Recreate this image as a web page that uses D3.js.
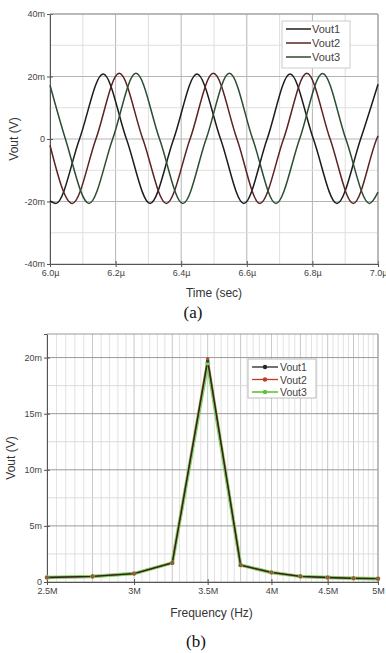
<!DOCTYPE html>
<html>
<head>
<meta charset="utf-8">
<script src="https://cdn.jsdelivr.net/npm/d3@7"></script>
<style>
  body { margin: 0; background: #fff; }
  svg { display: block; font-family: 'Liberation Sans', Arial, sans-serif; }
</style>
</head>
<body>
<div id="chart"></div>
<script>
// ---- data ----
// (a) transient, time in µs, Vout in mV (peaks, zero crossings, troughs)
const timeTicks = [6.0, 6.2, 6.4, 6.6, 6.8, 7.0];
const timeTickLabels = ['6.0µ', '6.2µ', '6.4µ', '6.6µ', '6.8µ', '7.0µ'];
const voutTicks = [40, 20, 0, -20, -40];
const voutTickLabels = ['40m', '20m', '0', '-20m', '-40m'];

const vout1 = [[6.0, -19.8], [6.018, -20.6], [6.090, 0], [6.162, 20.8], [6.233, 0], [6.305, -20.6],
  [6.377, 0], [6.448, 20.8], [6.520, 0], [6.591, -20.6], [6.662, 0], [6.732, 20.8], [6.803, 0],
  [6.875, -20.6], [6.947, 0], [7.0, 17.5]];
const vout2 = [[6.0, -2.0], [6.068, -20.6], [6.140, 0], [6.211, 21.0], [6.283, 0], [6.355, -20.6],
  [6.427, 0], [6.498, 21.0], [6.570, 0], [6.640, -20.6], [6.712, 0], [6.783, 21.0], [6.854, 0],
  [6.925, -20.6], [6.996, 0], [7.0, 1.0]];
const vout3 = [[6.0, 17.2], [6.047, 0], [6.119, -20.6], [6.191, 0], [6.262, 21.0], [6.334, 0],
  [6.405, -20.6], [6.476, 0], [6.547, 21.0], [6.618, 0], [6.689, -20.6], [6.761, 0], [6.831, 21.0],
  [6.902, 0], [6.974, -20.6], [7.0, -17.0]];

// (b) spectrum, frequency in MHz, Vout in mV
const freqs = [2.5, 2.75, 3.0, 3.25, 3.5, 3.75, 4.0, 4.25, 4.5, 4.75, 5.0];
const freqTicks = [2.5, 3, 3.5, 4, 4.5, 5];
const freqTickLabels = ['2.5M', '3M', '3.5M', '4M', '4.5M', '5M'];
const specTicks = [0, 5, 10, 15, 20];
const specTickLabels = ['0', '5m', '10m', '15m', '20m'];
const spec1 = [0.4, 0.5, 0.75, 1.7, 19.7, 1.5, 0.85, 0.5, 0.4, 0.33, 0.3];
const spec2 = [0.4, 0.5, 0.75, 1.7, 19.9, 1.5, 0.85, 0.5, 0.4, 0.33, 0.3];
const spec3 = [0.4, 0.5, 0.75, 1.7, 19.5, 1.5, 0.85, 0.5, 0.4, 0.33, 0.3];

const seriesNames = ['Vout1', 'Vout2', 'Vout3'];
const tranColors = ['#1c1c1c', '#5a2323', '#2b4d34'];

const W = 386, H = 653;
const svg = d3.select('#chart').append('svg')
  .attr('width', W).attr('height', H);

// ================= (a) =================
const a = { left: 50, right: 378, top: 14, bottom: 264 };
const xa = d3.scaleLinear().domain([6.0, 7.0]).range([a.left, a.right]);
const ya = d3.scaleLinear().domain([-40, 40]).range([a.bottom, a.top]);

const ga = svg.append('g');

// grid
ga.append('g').selectAll('line')
  .data(d3.range(0, 11).map((i) => 6.0 + i * 0.1))
  .enter().append('line')
  .attr('x1', (d) => xa(d)).attr('x2', (d) => xa(d))
  .attr('y1', a.top).attr('y2', a.bottom)
  .style('stroke', (d, i) => i % 2 === 0 ? '#b4b4b4' : '#dedede')
  .style('stroke-width', 1);
ga.append('g').selectAll('line')
  .data(d3.range(-40, 41, 10))
  .enter().append('line')
  .attr('x1', a.left).attr('x2', a.right)
  .attr('y1', (d) => ya(d)).attr('y2', (d) => ya(d))
  .style('stroke', (d) => d % 20 === 0 ? '#b4b4b4' : '#dedede')
  .style('stroke-width', 1);

// axes
ga.append('g')
  .attr('transform', `translate(${a.left},0)`)
  .call(d3.axisLeft(ya).tickValues(voutTicks).tickSize(3)
    .tickFormat((d, i) => voutTickLabels[i]))
  .call((g) => g.select('.domain').attr('stroke', '#555'))
  .call((g) => g.selectAll('.tick line').attr('x2', 3).attr('x1', -3).attr('stroke', '#555'))
  .call((g) => g.selectAll('.tick text').attr('x', -5).style('font-size', '9px').attr('fill', '#444')
    .style('font-family', 'Liberation Sans, Arial, sans-serif'));
ga.append('g')
  .attr('transform', `translate(0,${a.bottom})`)
  .call(d3.axisBottom(xa).tickValues(timeTicks).tickSize(3)
    .tickFormat((d, i) => timeTickLabels[i]))
  .call((g) => g.select('.domain').attr('stroke', '#555'))
  .call((g) => g.selectAll('.tick line').attr('y1', -3).attr('y2', 3).attr('stroke', '#555'))
  .call((g) => g.selectAll('.tick text').attr('y', 6).style('font-size', '9px').attr('fill', '#444')
    .style('font-family', 'Liberation Sans, Arial, sans-serif'));

// top/right frame
ga.append('line').attr('x1', a.left).attr('x2', a.right).attr('y1', a.top).attr('y2', a.top)
  .style('stroke', '#999');
ga.append('line').attr('x1', a.right).attr('x2', a.right).attr('y1', a.top).attr('y2', a.bottom)
  .style('stroke', '#999');

// waveforms
const lineA = d3.line()
  .x((d) => xa(d[0]))
  .y((d) => ya(d[1]))
  .curve(d3.curveMonotoneX);
[vout1, vout2, vout3].forEach((s, i) => {
  ga.append('path')
    .datum(s)
    .attr('d', lineA)
    .style('fill', 'none')
    .style('stroke', tranColors[i])
    .style('stroke-width', 1.5);
});

// legend (a)
const la = ga.append('g').attr('transform', 'translate(282,21)');
la.append('rect').attr('width', 68).attr('height', 47)
  .style('fill', '#fff').style('stroke', '#ccc');
seriesNames.forEach((n, i) => {
  la.append('line').attr('x1', 4).attr('x2', 29).attr('y1', 8 + i * 14).attr('y2', 8 + i * 14)
    .style('stroke', tranColors[i]).style('stroke-width', 1.5);
  la.append('text').attr('x', 30).attr('y', 12 + i * 14).text(n)
    .style('font-size', '11px').style('fill', '#444');
});

// titles (a)
ga.append('text')
  .attr('transform', `translate(18,${(a.top + a.bottom) / 2}) rotate(-90)`)
  .style('text-anchor', 'middle').style('font-size', '12px').style('fill', '#333')
  .text('Vout (V)');
ga.append('text')
  .attr('x', (a.left + a.right) / 2).attr('y', 297)
  .style('text-anchor', 'middle').style('font-size', '12px').style('fill', '#333')
  .text('Time (sec)');
svg.append('text')
  .attr('x', 193).attr('y', 318)
  .style('text-anchor', 'middle').style('font-size', '17px')
  .style('font-family', 'Liberation Serif, Times New Roman, serif').style('fill', '#111')
  .text('(a)');

// ================= (b) =================
const b = { left: 47, right: 378, top: 334, bottom: 582 };
const xb = d3.scaleLog().domain([2.5, 5]).range([b.left, b.right]);
const yb = d3.scaleLinear().domain([0, 22.1]).range([b.bottom, b.top]);

const gb = svg.append('g');

// grid
gb.append('g').selectAll('line')
  .data(d3.range(0, 51).map((i) => 2.5 + i * 0.05))
  .enter().append('line')
  .attr('x1', (d) => xb(d)).attr('x2', (d) => xb(d))
  .attr('y1', b.top).attr('y2', b.bottom)
  .style('stroke', (d, i) => i % 5 === 0 ? '#c8c8c8' : '#e2e2e2')
  .style('stroke-width', 1);
gb.append('g').selectAll('line')
  .data(d3.range(0, 22.1, 2.5))
  .enter().append('line')
  .attr('x1', b.left).attr('x2', b.right)
  .attr('y1', (d) => yb(d)).attr('y2', (d) => yb(d))
  .style('stroke', (d, i) => i % 2 === 0 ? '#9a9a9a' : '#dcdcdc')
  .style('stroke-width', 1);

gb.append('g')
  .attr('transform', `translate(${b.left},0)`)
  .call(d3.axisLeft(yb).tickValues(specTicks).tickSize(3)
    .tickFormat((d, i) => specTickLabels[i]))
  .call((g) => g.select('.domain').attr('stroke', '#555'))
  .call((g) => g.selectAll('.tick line').attr('x2', 3).attr('x1', -3).attr('stroke', '#555'))
  .call((g) => g.selectAll('.tick text').attr('x', -5).style('font-size', '9px').attr('fill', '#444')
    .style('font-family', 'Liberation Sans, Arial, sans-serif'));
gb.append('g')
  .attr('transform', `translate(0,${b.bottom})`)
  .call(d3.axisBottom(xb).tickValues(freqTicks).tickSize(3)
    .tickFormat((d, i) => freqTickLabels[i]))
  .call((g) => g.select('.domain').attr('stroke', '#555'))
  .call((g) => g.selectAll('.tick line').attr('y1', -3).attr('y2', 3).attr('stroke', '#555'))
  .call((g) => g.selectAll('.tick text').attr('y', 6).style('font-size', '9px').attr('fill', '#444')
    .style('font-family', 'Liberation Sans, Arial, sans-serif'));

gb.append('line').attr('x1', b.left).attr('x2', b.right).attr('y1', b.top).attr('y2', b.top)
  .style('stroke', '#999');
gb.append('line').attr('x1', b.right).attr('x2', b.right).attr('y1', b.top).attr('y2', b.bottom)
  .style('stroke', '#999');

// spectrum lines: green halo, red, black on top
const specColors = ['#262626', '#c0392b', '#7fcf5f'];
const specWidths = [1.3, 1.4, 3.5];
const lineB = d3.line()
  .x((d) => xb(d[0]))
  .y((d) => yb(d[1]));
const specSeries = [spec1, spec2, spec3].map((s) => s.map((v, i) => [freqs[i], v]));
[2, 1, 0].forEach((k) => {
  gb.append('path')
    .datum(specSeries[k])
    .attr('d', lineB)
    .style('fill', 'none')
    .style('stroke', specColors[k])
    .style('stroke-width', specWidths[k])
    .style('stroke-linejoin', 'round');
});
[2, 0, 1].forEach((k) => {
  gb.append('g').selectAll('circle')
    .data(specSeries[k])
    .enter().append('circle')
    .attr('cx', (d) => xb(d[0]))
    .attr('cy', (d) => yb(d[1]))
    .attr('r', k === 2 ? 2.4 : 1.8)
    .style('fill', k === 2 ? '#7fcf5f' : (k === 1 ? '#b0503a' : '#333'));
});

// legend (b)
const lb = gb.append('g').attr('transform', 'translate(248,359)');
lb.append('rect').attr('width', 68).attr('height', 39)
  .style('fill', '#fff').style('stroke', '#bbb');
seriesNames.forEach((n, i) => {
  lb.append('line').attr('x1', 4).attr('x2', 30).attr('y1', 8 + i * 12.5).attr('y2', 8 + i * 12.5)
    .style('stroke', specColors[i]).style('stroke-width', i === 2 ? 2 : 1.3);
  lb.append('circle').attr('cx', 17).attr('cy', 8 + i * 12.5).attr('r', 2.2)
    .style('fill', i === 2 ? '#5fbf3f' : specColors[i]);
  lb.append('text').attr('x', 32).attr('y', 12 + i * 12.5).text(n)
    .style('font-size', '10.5px').style('fill', '#444');
});

gb.append('text')
  .attr('transform', `translate(15,${(b.top + b.bottom) / 2}) rotate(-90)`)
  .style('text-anchor', 'middle').style('font-size', '12px').style('fill', '#333')
  .text('Vout (V)');
gb.append('text')
  .attr('x', (b.left + b.right) / 2 - 1).attr('y', 617)
  .style('text-anchor', 'middle').style('font-size', '12px').style('fill', '#333')
  .text('Frequency (Hz)');
svg.append('text')
  .attr('x', 196).attr('y', 647)
  .style('text-anchor', 'middle').style('font-size', '17px')
  .style('font-family', 'Liberation Serif, Times New Roman, serif').style('fill', '#111')
  .text('(b)');
</script>
</body>
</html>
